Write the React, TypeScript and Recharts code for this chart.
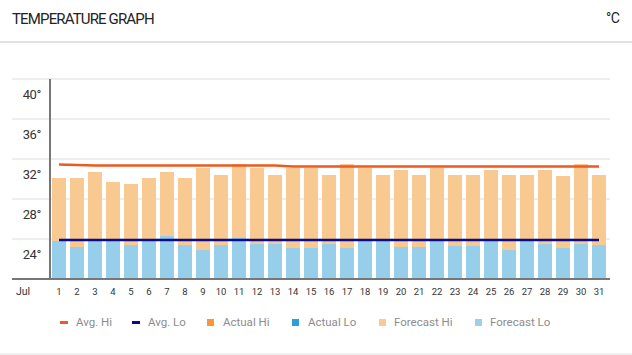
import React from 'react';
import { ComposedChart, Bar, Line, XAxis, YAxis, CartesianGrid } from 'recharts';

const days = ['1','2','3','4','5','6','7','8','9','10','11','12','13','14','15','16','17','18','19','20','21','22','23','24','25','26','27','28','29','30','31'];
const forecastHi = [30.1,30.1,30.7,29.7,29.5,30.1,30.7,30.1,31.1,30.4,31.5,31.1,30.4,31.1,31.1,30.4,31.5,31.1,30.4,30.9,30.4,31.1,30.4,30.4,30.9,30.4,30.4,30.9,30.3,31.5,30.4];
const forecastLo = [23.8,23.2,23.8,23.8,23.4,23.8,24.3,23.4,22.9,23.4,24.1,23.5,23.5,23.1,23.1,23.5,23.1,23.8,23.8,23.2,23.2,23.8,23.3,23.3,23.8,22.9,23.8,23.5,23.1,23.5,23.4];
const avgHi = [31.45,31.4,31.35,31.35,31.35,31.35,31.35,31.35,31.35,31.35,31.35,31.35,31.35,31.25,31.25,31.25,31.25,31.25,31.25,31.25,31.25,31.25,31.25,31.25,31.25,31.25,31.25,31.25,31.25,31.25,31.25];
const avgLo = [23.9,23.9,23.9,23.9,23.9,23.9,23.9,23.9,23.9,23.9,23.9,23.9,23.9,23.9,23.9,23.9,23.9,23.9,23.9,23.9,23.9,23.9,23.9,23.9,23.9,23.9,23.9,23.9,23.9,23.9,23.9];
const yTicks = [20, 24, 28, 32, 36, 40];
const monthLabel = 'Jul';

const legendItems = [
  { name: 'Avg. Hi', color: '#EC5A1F', kind: 'line', mx: 60, tx: 76 },
  { name: 'Avg. Lo', color: '#0A0A8C', kind: 'line', mx: 132, tx: 148 },
  { name: 'Actual Hi', color: '#F7963B', kind: 'square', mx: 207, tx: 223 },
  { name: 'Actual Lo', color: '#2A9FD8', kind: 'square', mx: 292, tx: 308 },
  { name: 'Forecast Hi', color: '#FCC898', kind: 'square', mx: 379, tx: 394 },
  { name: 'Forecast Lo', color: '#9BCFEA', kind: 'square', mx: 475, tx: 490 },
];

const data = days.map((d, i) => ({
  day: d,
  hi: forecastHi[i],
  lo: forecastLo[i],
  avgHi: avgHi[i],
  avgLo: avgLo[i],
}));

const FONT = 'Roboto, "Noto Sans", sans-serif';

const YTick = (props: any) => {
  const { y, payload } = props;
  if (payload.value === 20) return <g />;
  return (
    <text x={41} y={y + 19.5} textAnchor="end" fontSize={13} fill="#333" fontFamily={FONT} letterSpacing={-0.4}>
      {payload.value}°
    </text>
  );
};

const XTick = (props: any) => {
  const { x, y, payload, index } = props;
  return (
    <g>
      <text x={x} y={y + 8} textAnchor="middle" fontSize={9.5} fill="#333" fontFamily={FONT}>
        {payload.value}
      </text>
      {index === 0 ? (
        <text x={x - 36} y={y + 8} textAnchor="middle" fontSize={10.5} fill="#333" fontFamily={FONT}>
          {monthLabel}
        </text>
      ) : null}
    </g>
  );
};

const gridLine = (props: any) => {
  const { y1, key } = props;
  const isBase = Math.abs(y1 - 279) < 1;
  return (
    <line
      key={key ?? y1}
      x1={12}
      x2={610}
      y1={y1}
      y2={y1}
      stroke={isBase ? '#777' : '#eeeeee'}
      strokeWidth={2}
    />
  );
};

export default function App() {
  return (
    <div style={{ position: 'relative', width: 632, height: 355, background: '#fff', fontFamily: FONT }}>
      <style>{'body{margin:0}'}</style>
      <div style={{ position: 'absolute', left: 12, top: 10, fontSize: 15, color: '#222', letterSpacing: -0.85, whiteSpace: 'nowrap' }}>
        TEMPERATURE GRAPH
      </div>
      <div style={{ position: 'absolute', left: 606, top: 10, fontSize: 14, color: '#222', letterSpacing: -0.6 }}>°C</div>
      <div style={{ position: 'absolute', left: 0, top: 41, width: 632, height: 2, background: '#e2e2e2' }} />
      <div style={{ position: 'absolute', left: 0, top: 0 }}>
        <ComposedChart
          width={632}
          height={355}
          data={data}
          margin={{ top: 79, right: 24, bottom: 56, left: 12 }}
          barSize={14}
          barGap={-14}
        >
          <CartesianGrid vertical={false} horizontal={gridLine} />
          <XAxis
            dataKey="day"
            interval={0}
            height={20}
            tickLine={false}
            axisLine={{ stroke: '#777', strokeWidth: 2 }}
            tick={XTick}
          />
          <YAxis
            width={38}
            domain={[20, 40]}
            ticks={yTicks}
            interval={0}
            tickLine={false}
            axisLine={{ stroke: '#777', strokeWidth: 2 }}
            tick={YTick}
          />
          <Bar dataKey="hi" fill="#F8C991" isAnimationActive={false} />
          <Bar dataKey="lo" fill="#97CEEA" isAnimationActive={false} />
          <Line dataKey="avgHi" type="linear" stroke="#EC5A1F" strokeWidth={2.7} dot={false} activeDot={false} isAnimationActive={false} />
          <Line dataKey="avgLo" type="linear" stroke="#0A0A8C" strokeWidth={2.5} dot={false} activeDot={false} isAnimationActive={false} />
        </ComposedChart>
      </div>
      {legendItems.map((it) => (
        <React.Fragment key={it.name}>
          <div
            style={{
              position: 'absolute',
              left: it.mx,
              top: it.kind === 'line' ? 321 : 318.5,
              width: it.kind === 'line' ? 8 : 7,
              height: it.kind === 'line' ? 2.5 : 7,
              background: it.color,
            }}
          />
          <div style={{ position: 'absolute', left: it.tx, top: 314, fontSize: 11.5, color: '#8c8c8c', whiteSpace: 'nowrap', lineHeight: '16px' }}>
            {it.name}
          </div>
        </React.Fragment>
      ))}
      <div style={{ position: 'absolute', left: 0, top: 353, width: 632, height: 2, background: '#eeeeee' }} />
    </div>
  );
}
